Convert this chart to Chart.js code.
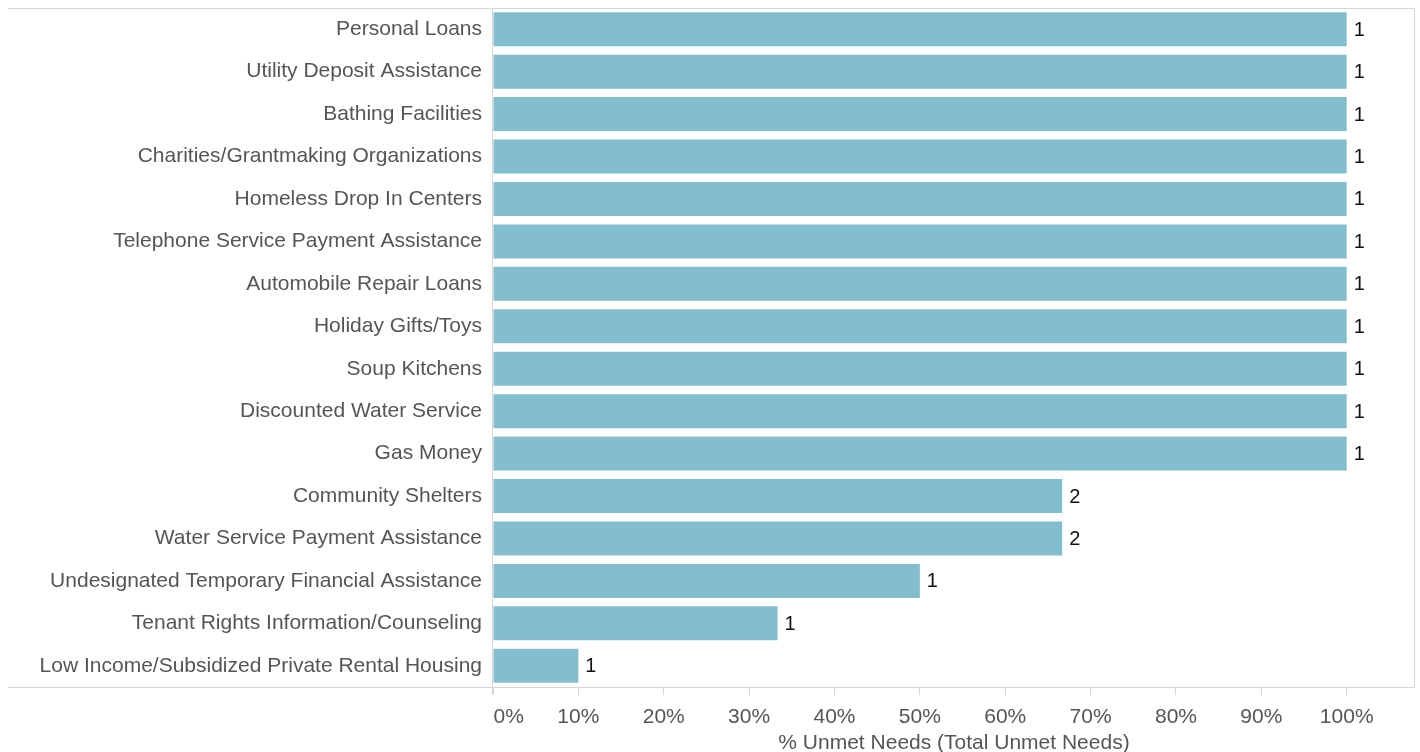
<!DOCTYPE html>
<html>
<head>
<meta charset="utf-8">
<script src="https://cdn.jsdelivr.net/npm/chart.js@4/dist/chart.umd.min.js"></script>
<style>
  html, body { margin: 0; padding: 0; background: #fff; }
  #wrap { width: 1420px; height: 752px; }
</style>
</head>
<body>
<div id="wrap"><canvas id="c" width="1420" height="752"></canvas></div>
<script>
const categories = [
  "Personal Loans",
  "Utility Deposit Assistance",
  "Bathing Facilities",
  "Charities/Grantmaking Organizations",
  "Homeless Drop In Centers",
  "Telephone Service Payment Assistance",
  "Automobile Repair Loans",
  "Holiday Gifts/Toys",
  "Soup Kitchens",
  "Discounted Water Service",
  "Gas Money",
  "Community Shelters",
  "Water Service Payment Assistance",
  "Undesignated Temporary Financial Assistance",
  "Tenant Rights Information/Counseling",
  "Low Income/Subsidized Private Rental Housing"
];
const pctUnmet = [1, 1, 1, 1, 1, 1, 1, 1, 1, 1, 1, 0.6667, 0.6667, 0.5, 0.3333, 0.1];
const totalUnmet = [1, 1, 1, 1, 1, 1, 1, 1, 1, 1, 1, 2, 2, 1, 1, 1];
const tickValues = [0, 0.1, 0.2, 0.3, 0.4, 0.5, 0.6, 0.7, 0.8, 0.9, 1.0];
const tickLabels = ["0%", "10%", "20%", "30%", "40%", "50%", "60%", "70%", "80%", "90%", "100%"];

const FONT = "'Liberation Sans', Arial, Helvetica, sans-serif";
const LINE = '#d6d6d6';

const framePlugin = {
  id: 'frame',
  afterDraw(chart) {
    const {ctx, chartArea: a} = chart;
    ctx.save();
    ctx.strokeStyle = LINE;
    ctx.lineWidth = 1;
    ctx.beginPath();
    ctx.moveTo(8, a.top + 0.5); ctx.lineTo(a.right, a.top + 0.5);
    ctx.moveTo(8, a.bottom + 0.5); ctx.lineTo(a.right, a.bottom + 0.5);
    ctx.moveTo(a.right - 0.5, a.top); ctx.lineTo(a.right - 0.5, a.bottom);
    ctx.moveTo(a.left - 0.5, a.top); ctx.lineTo(a.left - 0.5, a.bottom + 8);
    ctx.stroke();
    ctx.restore();
  }
};

const valueLabelPlugin = {
  id: 'valueLabels',
  afterDatasetsDraw(chart) {
    const {ctx} = chart;
    const meta = chart.getDatasetMeta(0);
    ctx.save();
    ctx.font = "20px " + FONT;
    ctx.fillStyle = '#111';
    ctx.textAlign = 'left';
    ctx.textBaseline = 'middle';
    meta.data.forEach((bar, i) => {
      ctx.fillText(String(totalUnmet[i]), bar.x + 7, bar.y + 1);
    });
    ctx.restore();
  }
};

new Chart(document.getElementById('c'), {
  type: 'bar',
  data: {
    labels: categories,
    datasets: [{
      data: pctUnmet,
      backgroundColor: '#83bece',
      borderWidth: 0,
      barPercentage: 0.8,
      categoryPercentage: 1.0
    }]
  },
  options: {
    indexAxis: 'y',
    responsive: false,
    animation: false,
    devicePixelRatio: 1,
    layout: { padding: { top: 8, right: 5, bottom: 0, left: 0 } },
    plugins: {
      legend: { display: false },
      tooltip: { enabled: false }
    },
    scales: {
      x: {
        min: 0,
        max: 1.08,
        afterBuildTicks(scale) {
          scale.ticks = tickValues.map(v => ({ value: v }));
        },
        afterFit(scale) {
          scale.height = 65;
        },
        grid: { drawOnChartArea: false, drawTicks: true, tickLength: 8, color: LINE },
        border: { display: false },
        ticks: {
          padding: 10,
          maxRotation: 0,
          autoSkip: false,
          color: '#555',
          font: { family: FONT, size: 21 },
          callback(value, index) {
            const i = tickValues.findIndex(v => Math.abs(v - value) < 1e-6);
            const t = i >= 0 ? tickLabels[i] : '';
            return i === 0 ? '\u2003\u2002' + t : t;
          }
        },
        title: {
          display: true,
          text: '% Unmet Needs (Total Unmet Needs)',
          color: '#555',
          font: { family: FONT, size: 21, lineHeight: 0.85 },
          padding: { top: 4, bottom: 0 }
        }
      },
      y: {
        afterFit(scale) {
          scale.width = 493;
          scale.paddingTop = 0;
          scale.paddingBottom = 0;
        },
        grid: { display: false, drawTicks: false },
        border: { display: false },
        ticks: {
          padding: 11,
          autoSkip: false,
          color: '#555',
          font: { family: FONT, size: 21 }
        }
      }
    }
  },
  plugins: [framePlugin, valueLabelPlugin]
});
</script>
</body>
</html>
